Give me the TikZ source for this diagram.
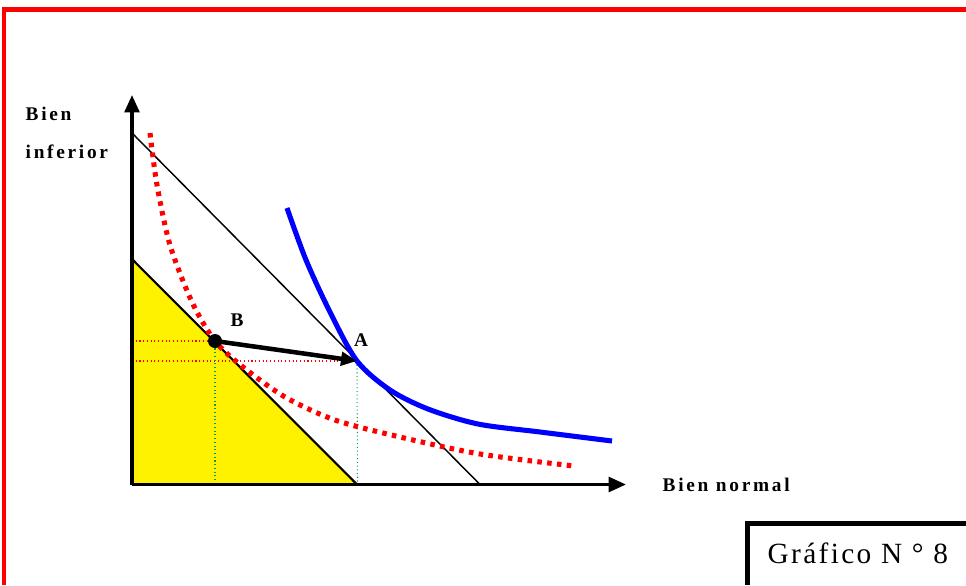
\documentclass[tikz,border=0pt]{standalone}
\usepackage{fontspec}
\setmainfont{Liberation Serif}
\newfontfamily\spacedfont[LetterSpace=14]{Liberation Serif}
\newfontfamily\titlefont[LetterSpace=8]{Liberation Serif}
\usetikzlibrary{arrows.meta,positioning}
\tikzset{
  axis/.style={line width=2.6pt, -{Triangle[length=13pt, width=11pt]}},
  budget/.style={line width=1.1pt, draw=black},
  indiff/.style={line width=3.8pt, draw=blue, smooth},
  indiffold/.style={line width=3.8pt, draw=red, smooth,
                    dash pattern=on 3.4pt off 4pt},
  guidered/.style={line width=0.8pt, draw=red, dotted},
  guidegreen/.style={line width=0.8pt, draw=teal!80!green, dotted},
  move/.style={line width=3.4pt, -{Triangle[length=12pt, width=10pt]}},
  axislbl/.style={font=\spacedfont\bfseries\fontsize{14.5}{16}\selectfont, anchor=west},
  ptlbl/.style={font=\bfseries\fontsize{14.5}{16}\selectfont}
}
\begin{document}
\begin{tikzpicture}[x=0.75pt, y=-0.75pt]
  \useasboundingbox (0,0) rectangle (966,585);

  % Frame and caption box
  \draw[red, line width=3.6pt] (4,585) -- (4,9.5) -- (966,9.5);
  \draw[black, line width=3.6pt] (747.5,585) -- (747.5,523.5) -- (966,523.5);
  \node[font=\titlefont\fontsize{22}{24}\selectfont, anchor=west] (titulo)
       at (763,553) {Gráfico N ° 8};

  % Axes
  \coordinate (O) at (132,484.5);
  \coordinate (ytop) at (132,95);
  \coordinate (xend) at (626,484.5);

  % Old budget set
  \coordinate (b0) at (132,259);
  \coordinate (b1) at (357,484.5);
  \fill[yellow] (O) -- (b0) -- (b1) -- cycle;
  \draw[budget, line width=1.6pt] (b0) -- (b1);

  % New budget line
  \coordinate (n0) at (132,133);
  \coordinate (n1) at (480,484.5);
  \draw[budget] (n0) -- (n1);

  % Points
  \coordinate (A) at (357,361);
  \coordinate (B) at (215,341);

  % Guides
  \draw[guidered] (132,341) -- (B);
  \draw[guidered] (132,361) -- (A);
  \draw[guidegreen] (B) -- (215,484.5);
  \draw[guidegreen] (A) -- (357.5,484.5);

  % Indifference curves
  \draw[indiffold] plot coordinates {(150,133) (157,185) (170,245) (192,302)
        (B) (243,367) (285,397) (335,420) (400,437) (480,454) (574,466)};
  \draw[indiff] plot coordinates {(287,208) (306,260) (330,312) (A)
        (390,390) (428,409) (478,424) (540,432) (612,441)};

  \draw[axis] (O) -- (ytop);
  \draw[axis] (O) -- (xend);

  % Movement B -> A
  \fill (B) circle (7);
  \draw[move] (B) -- (A);

  % Labels
  \node[ptlbl] (lblB) at (237,320) {B};
  \node[ptlbl] (lblA) at (361,340) {A};
  \node[axislbl] (ylbl1) at (21,114) {Bien};
  \node[axislbl] (ylbl2) at (21,152) {inferior};
  \node[axislbl] (xlbl) at (658,485) {Bien normal};
\end{tikzpicture}
\end{document}
